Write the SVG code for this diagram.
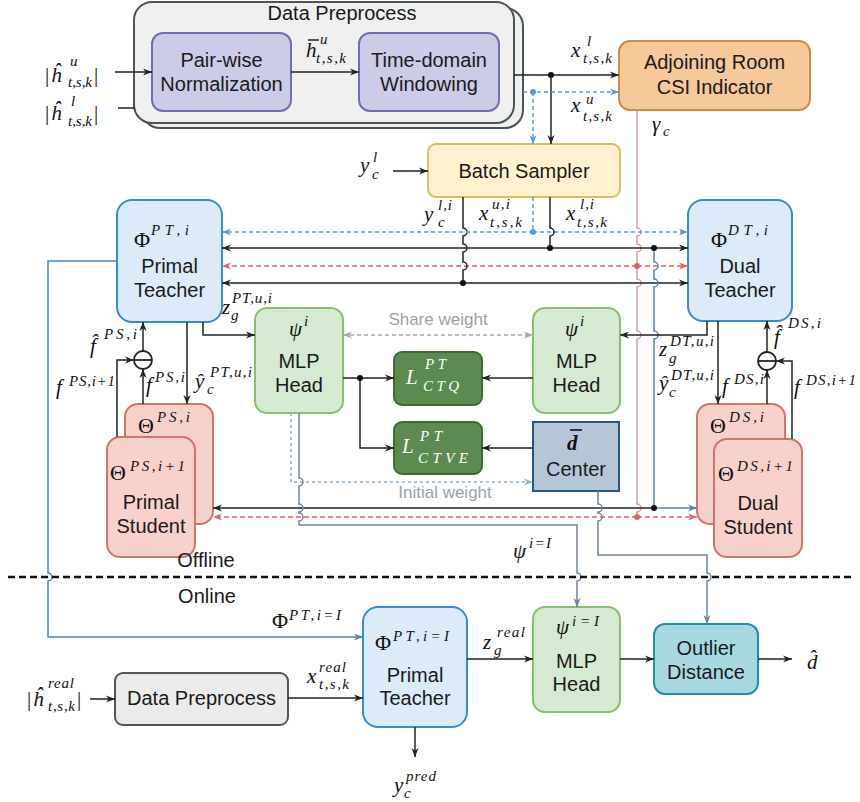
<svg xmlns="http://www.w3.org/2000/svg" width="860" height="802" viewBox="0 0 860 802">
<defs>
<style>
.t{font-family:"Liberation Sans",Arial,sans-serif;font-size:20px;fill:#1a1a1a;text-anchor:middle}
.m{font-family:"Liberation Serif","Times New Roman",serif;font-style:italic;font-size:21px;fill:#111}
.mu{font-family:"Liberation Serif","Times New Roman",serif;font-size:22px;fill:#111}
.s{font-family:"Liberation Serif","Times New Roman",serif;font-style:italic;font-size:15px}
.n{font-style:normal}
.w{fill:#fff}
.g{font-family:"Liberation Sans",Arial,sans-serif;font-size:17px;fill:#9aa3aa;text-anchor:middle}
.c{fill:none;stroke:#222;stroke-width:1.5}
.cb{fill:none;stroke:#5b9bd5;stroke-width:1.5;stroke-dasharray:4 3}
.cr{fill:none;stroke:#d9666a;stroke-width:1.5;stroke-dasharray:5 3}
.cp{fill:none;stroke:#e39a9a;stroke-width:1.5}
.cs{fill:none;stroke:#4f86ad;stroke-width:1.5}
.cg{fill:none;stroke:#6f8595;stroke-width:1.5}
.cw{fill:none;stroke:#a5abb0;stroke-width:1.5;stroke-dasharray:4 3}
.ci{fill:none;stroke:#8fb3cc;stroke-width:1.5;stroke-dasharray:3 3}
.dp{fill:#f0f0f0;stroke:#4a5459;stroke-width:2}
.pu{fill:#cccbe8;stroke:#6c6fb0;stroke-width:2}
.te{fill:#dcebf7;stroke:#3a8cc6;stroke-width:2}
.ml{fill:#d6e9d3;stroke:#86bf74;stroke-width:2}
.lo{fill:#5d8a4e;stroke:#3f6a35;stroke-width:2}
.st{fill:#f7d2cd;stroke:#cf766b;stroke-width:2}
</style>
<marker id="ak" viewBox="0 0 10 10" markerWidth="9" markerHeight="9" refX="10" refY="5" orient="auto-start-reverse" markerUnits="userSpaceOnUse"><path d="M0,1 L10,5 L0,9 L3,5 z" fill="#222"/></marker>
<marker id="ab" viewBox="0 0 10 10" markerWidth="9" markerHeight="9" refX="10" refY="5" orient="auto-start-reverse" markerUnits="userSpaceOnUse"><path d="M0,1 L10,5 L0,9 L3,5 z" fill="#5b9bd5"/></marker>
<marker id="ar" viewBox="0 0 10 10" markerWidth="9" markerHeight="9" refX="10" refY="5" orient="auto-start-reverse" markerUnits="userSpaceOnUse"><path d="M0,1 L10,5 L0,9 L3,5 z" fill="#d9666a"/></marker>
<marker id="as" viewBox="0 0 10 10" markerWidth="9" markerHeight="9" refX="10" refY="5" orient="auto-start-reverse" markerUnits="userSpaceOnUse"><path d="M0,1 L10,5 L0,9 L3,5 z" fill="#4f86ad"/></marker>
<marker id="ag" viewBox="0 0 10 10" markerWidth="9" markerHeight="9" refX="10" refY="5" orient="auto-start-reverse" markerUnits="userSpaceOnUse"><path d="M0,1 L10,5 L0,9 L3,5 z" fill="#6f8595"/></marker>
<marker id="aw" viewBox="0 0 10 10" markerWidth="9" markerHeight="9" refX="10" refY="5" orient="auto-start-reverse" markerUnits="userSpaceOnUse"><path d="M0,1 L10,5 L0,9 L3,5 z" fill="#a5abb0"/></marker>
<marker id="ai" viewBox="0 0 10 10" markerWidth="9" markerHeight="9" refX="10" refY="5" orient="auto-start-reverse" markerUnits="userSpaceOnUse"><path d="M0,1 L10,5 L0,9 L3,5 z" fill="#8fb3cc"/></marker>
</defs>
<rect width="860" height="802" fill="#fff"/>

<g id="data-preprocess">
<rect class="dp" x="142" y="8" width="381" height="120" rx="18"/>
<rect class="dp" x="134" y="2" width="380" height="121" rx="18"/>
<text class="t" x="342" y="20">Data Preprocess</text>
</g>
<g id="pairwise-normalization">
<rect class="pu" x="152" y="33" width="139" height="78" rx="11"/>
<text class="t" x="221.5" y="67">Pair-wise</text>
<text class="t" x="221.5" y="91">Normalization</text>
</g>
<g id="time-domain-windowing">
<rect class="pu" x="359" y="33" width="140" height="78" rx="11"/>
<text class="t" x="429" y="67">Time-domain</text>
<text class="t" x="429" y="91">Windowing</text>
</g>
<g id="adjoining-room">
<rect x="619" y="41" width="191" height="69" rx="11" fill="#f7c898" stroke="#d08b46" stroke-width="2"/>
<text class="t" x="714.5" y="69">Adjoining Room</text>
<text class="t" x="714.5" y="94">CSI Indicator</text>
</g>
<g id="batch-sampler">
<rect x="428" y="144" width="192" height="53" rx="8" fill="#fff3cf" stroke="#d9bf62" stroke-width="2"/>
<text class="t" x="524" y="178">Batch Sampler</text>
</g>

<g id="primal-teacher">
<rect class="te" x="117" y="200" width="105" height="122" rx="15"/>
<text class="mu" x="134" y="247">Φ<tspan class="s" x="151" y="235" textLength="38">PT,i</tspan></text>
<text class="t" x="169.5" y="273">Primal</text>
<text class="t" x="169.5" y="297">Teacher</text>
</g>
<g id="dual-teacher">
<rect class="te" x="688" y="200" width="104" height="121" rx="15"/>
<text class="mu" x="711" y="247">Φ<tspan class="s" x="728" y="235" textLength="40">DT,i</tspan></text>
<text class="t" x="740" y="273">Dual</text>
<text class="t" x="740" y="297">Teacher</text>
</g>

<g id="mlp-head-primal">
<rect class="ml" x="255" y="308" width="88" height="105" rx="12"/>
<text class="m" x="289" y="336">ψ<tspan class="s" x="304" y="326">i</tspan></text>
<text class="t" x="299" y="368">MLP</text>
<text class="t" x="299" y="392">Head</text>
</g>
<g id="mlp-head-dual">
<rect class="ml" x="533" y="308" width="87" height="105" rx="12"/>
<text class="m" x="565" y="336">ψ<tspan class="s" x="580" y="326">i</tspan></text>
<text class="t" x="576.5" y="368">MLP</text>
<text class="t" x="576.5" y="392">Head</text>
</g>
<g id="loss-ctq">
<rect class="lo" x="394" y="352" width="88" height="53" rx="8"/>
<text class="m w" x="406" y="384">L<tspan class="s" x="425" y="369" textLength="21">PT</tspan><tspan class="s" x="423" y="391" textLength="36">CTQ</tspan></text>
</g>
<g id="loss-ctve">
<rect class="lo" x="394" y="422" width="88" height="52" rx="8"/>
<text class="m w" x="402" y="453">L<tspan class="s" x="420" y="441" textLength="22">PT</tspan><tspan class="s" x="418" y="463" textLength="50">CTVE</tspan></text>
</g>
<g id="center">
<rect x="533" y="422" width="86" height="69" fill="#b6c6d6" stroke="#2b587a" stroke-width="2"/>
<text class="m" x="567" y="450" font-weight="bold">d</text>
<line x1="570" y1="430" x2="582" y2="430" stroke="#111" stroke-width="1.6"/>
<text class="t" x="576" y="476">Center</text>
</g>

<g id="primal-student">
<rect class="st" x="125" y="404" width="88" height="120" rx="13"/>
<text class="mu" x="138" y="433">Θ<tspan class="s" x="157" y="422" textLength="33">PS,i</tspan></text>
<rect class="st" x="107" y="437" width="88" height="120" rx="13"/>
<text class="mu" x="110" y="480">Θ<tspan class="s" x="130" y="471" textLength="55">PS,i+1</tspan></text>
<text class="t" x="151" y="509">Primal</text>
<text class="t" x="151" y="533">Student</text>
</g>
<g id="dual-student">
<rect class="st" x="697" y="404" width="88" height="120" rx="13"/>
<text class="mu" x="710" y="433">Θ<tspan class="s" x="729" y="422" textLength="35">DS,i</tspan></text>
<rect class="st" x="714" y="439" width="88" height="118" rx="13"/>
<text class="mu" x="718" y="481">Θ<tspan class="s" x="737" y="471" textLength="56">DS,i+1</tspan></text>
<text class="t" x="758" y="510">Dual</text>
<text class="t" x="758" y="534">Student</text>
</g>

<g id="sub-primal">
<circle cx="143" cy="360" r="9" fill="#fff" stroke="#222" stroke-width="1.8"/>
<line x1="134" y1="360" x2="152" y2="360" stroke="#222" stroke-width="1.8"/>
</g>
<g id="sub-dual">
<circle cx="767" cy="361" r="9" fill="#fff" stroke="#222" stroke-width="1.8"/>
<line x1="758" y1="361" x2="776" y2="361" stroke="#222" stroke-width="1.8"/>
</g>

<g id="data-preprocess-online">
<rect x="115" y="673" width="173" height="52" rx="8" fill="#ebebeb" stroke="#555" stroke-width="2"/>
<text class="t" x="201.5" y="705">Data Preprocess</text>
</g>
<g id="primal-teacher-online">
<rect class="te" x="363" y="607" width="104" height="120" rx="15"/>
<text class="mu" x="375" y="650">Φ<tspan class="s" x="393" y="641" textLength="56">PT,i=I</tspan></text>
<text class="t" x="415" y="682">Primal</text>
<text class="t" x="415" y="705">Teacher</text>
</g>
<g id="mlp-head-online">
<rect class="ml" x="533" y="607" width="87" height="105" rx="12"/>
<text class="m" x="556" y="634">ψ<tspan class="s" x="572" y="626" textLength="27">i=I</tspan></text>
<text class="t" x="576.5" y="668">MLP</text>
<text class="t" x="576.5" y="691">Head</text>
</g>
<g id="outlier-distance">
<rect x="654" y="624" width="104" height="70" rx="11" fill="#a7d9e0" stroke="#1f8fa6" stroke-width="2"/>
<text class="t" x="706" y="655">Outlier</text>
<text class="t" x="706" y="679">Distance</text>
</g>

<g id="connectors">
<path class="c" d="M115,72 H152" marker-end="url(#ak)"/>
<path class="c" d="M118,108 H135"/>
<path class="c" d="M291,72 H359" marker-end="url(#ak)"/>
<path class="c" d="M514,75 H619" stroke="#444" marker-end="url(#ak)"/>
<path class="c" d="M551,75 V144" marker-end="url(#ak)"/>
<path class="cb" d="M523,92 H619" marker-end="url(#ab)"/>
<path class="cb" d="M533,92 V144" marker-end="url(#ab)"/>
<path class="c" d="M393,171 H428" marker-end="url(#ak)"/>
<path class="cp" d="M637,110 V228 a4,4 0 0 1 0,8 V244 a4,4 0 0 1 0,8 V279 a4,4 0 0 1 0,8 V331 a4,4 0 0 1 0,8 V504 a4,4 0 0 1 0,8 V517"/>
<path class="cr" d="M637,266 H222" marker-end="url(#ar)"/>
<path class="cr" d="M637,266 H688" marker-end="url(#ar)"/>
<path class="cr" d="M637,517 H213" marker-end="url(#ar)"/>
<path class="cr" d="M637,517 H697" marker-end="url(#ar)"/>
<path class="c" d="M463,197 V228 a4,4 0 0 1 0,8 V244 a4,4 0 0 1 0,8 V262 a4,4 0 0 1 0,8 V283"/>
<path class="c" d="M463,283 H222" stroke="#3d4a55" marker-end="url(#ak)"/>
<path class="c" d="M463,283 H688" marker-end="url(#ak)"/>
<path class="cb" d="M533,197 V232"/>
<path class="cb" d="M533,232 H222" marker-end="url(#ab)"/>
<path class="cb" d="M533,232 H688" marker-end="url(#ab)"/>
<path class="c" d="M550,197 V228 a4,4 0 0 1 0,8 V248"/>
<path class="c" d="M550,248 H222" marker-end="url(#ak)"/>
<path class="c" d="M550,248 H688" marker-end="url(#ak)"/>
<path class="cs" d="M654,248 V262 a4,4 0 0 1 0,8 V279 a4,4 0 0 1 0,8 V331 a4,4 0 0 1 0,8 V508"/>
<path class="cs" d="M654,508 H697" marker-end="url(#as)"/>
<path class="c" d="M654,508 H213" marker-end="url(#ak)"/>
<path class="c" d="M203,322 V335 H255" marker-end="url(#ak)"/>
<path class="c" d="M187,322 V404" marker-end="url(#ak)"/>
<path class="c" d="M143,351 V322" stroke="#555" marker-end="url(#ak)"/>
<path class="c" d="M143,404 V369" marker-end="url(#ak)"/>
<path class="c" d="M117,437 V360 H134" marker-end="url(#ak)"/>
<path class="c" d="M707,321 V335 H620" marker-end="url(#ak)"/>
<path class="c" d="M718,321 V404" marker-end="url(#ak)"/>
<path class="c" d="M767,352 V321" marker-end="url(#ak)"/>
<path class="c" d="M767,404 V370" marker-end="url(#ak)"/>
<path class="c" d="M792,439 V361 H776" marker-end="url(#ak)"/>
<path class="cw" d="M343,335 H533" marker-start="url(#aw)" marker-end="url(#aw)"/>
<path class="c" d="M343,378 H394" marker-end="url(#ak)"/>
<path class="c" d="M360,378 V448 H394" marker-end="url(#ak)"/>
<path class="c" d="M533,378 H482" marker-end="url(#ak)"/>
<path class="c" d="M533,448 H482" marker-end="url(#ak)"/>
<path class="ci" d="M291,413 V482 H533" marker-end="url(#ai)"/>
<path class="cg" d="M299,413 V478 a4,4 0 0 1 0,8 V504 a4,4 0 0 1 0,8 V513 a4,4 0 0 1 0,8 V525 H577 V573 a4,4 0 0 1 0,8 V607" marker-end="url(#ag)"/>
<path class="cg" d="M598,491 V504 a4,4 0 0 1 0,8 V513 a4,4 0 0 1 0,8 V555 H707 V573 a4,4 0 0 1 0,8 V624" marker-end="url(#ag)"/>
<path class="cs" d="M117,261 H48 V573 a4,4 0 0 1 0,8 V637 H363" marker-end="url(#as)"/>
<path d="M8,577 H855" fill="none" stroke="#111" stroke-width="2.5" stroke-dasharray="7 4"/>
<path class="c" d="M90,699 H115" marker-end="url(#ak)"/>
<path class="c" d="M288,698 H363" marker-end="url(#ak)"/>
<path class="c" d="M467,659 H533" marker-end="url(#ak)"/>
<path class="c" d="M620,659 H654" marker-end="url(#ak)"/>
<path class="c" d="M758,659 H792" marker-end="url(#ak)"/>
<path class="c" d="M415,727 V757" marker-end="url(#ak)"/>
<circle cx="551" cy="75" r="3" fill="#111"/>
<circle cx="533" cy="92" r="3" fill="#5b9bd5"/>
<circle cx="533" cy="232" r="3" fill="#5b9bd5"/>
<circle cx="550" cy="248" r="3" fill="#111"/>
<circle cx="654" cy="248" r="3" fill="#111"/>
<circle cx="637" cy="266" r="3" fill="#d9666a"/>
<circle cx="463" cy="283" r="3" fill="#111"/>
<circle cx="360" cy="378" r="3" fill="#111"/>
<circle cx="654" cy="508" r="3" fill="#111"/>
<circle cx="637" cy="517" r="3" fill="#d9666a"/>
</g>

<g id="labels">
<text class="m" x="45" y="82"><tspan class="n">|</tspan><tspan x="51">ĥ</tspan><tspan class="s" x="70" y="66">u</tspan><tspan class="s" x="68" y="87" textLength="24">t,s,k</tspan><tspan class="n" x="94" y="82">|</tspan></text>
<text class="m" x="45" y="120"><tspan class="n">|</tspan><tspan x="51">ĥ</tspan><tspan class="s" x="71" y="106">l</tspan><tspan class="s" x="68" y="126" textLength="24">t,s,k</tspan><tspan class="n" x="94" y="120">|</tspan></text>
<text class="m" x="306" y="57">h<tspan class="s" x="320" y="44">u</tspan><tspan class="s" x="316" y="63" textLength="30">t,s,k</tspan></text>
<line x1="308" y1="40" x2="319" y2="40" stroke="#111" stroke-width="1.4"/>
<text class="m" x="571" y="57">x<tspan class="s" x="587" y="46">l</tspan><tspan class="s" x="583" y="63" textLength="29">t,s,k</tspan></text>
<text class="m" x="571" y="112">x<tspan class="s" x="586" y="104">u</tspan><tspan class="s" x="583" y="121" textLength="29">t,s,k</tspan></text>
<text class="m" x="652" y="131">γ<tspan class="s" x="663" y="136">c</tspan></text>
<text class="m" x="360" y="172">y<tspan class="s" x="373" y="162">l</tspan><tspan class="s" x="372" y="179">c</tspan></text>
<text class="m" x="424" y="221">y<tspan class="s" x="438" y="210" textLength="14">l,i</tspan><tspan class="s" x="438" y="227">c</tspan></text>
<text class="m" x="479" y="220">x<tspan class="s" x="492" y="209" textLength="18">u,i</tspan><tspan class="s" x="490" y="227" textLength="32">t,s,k</tspan></text>
<text class="m" x="566" y="220">x<tspan class="s" x="580" y="209" textLength="14">l,i</tspan><tspan class="s" x="577" y="227" textLength="30">t,s,k</tspan></text>
<text class="m" x="222" y="314">z<tspan class="s" x="232" y="303" textLength="40">PT,u,i</tspan><tspan class="s" x="231" y="320">g</tspan></text>
<text class="m" x="90" y="353">f&#x302;<tspan class="s" x="104" y="339" textLength="33">PS,i</tspan></text>
<text class="m" x="56" y="394">f<tspan class="s" x="69" y="386" textLength="46">PS,i+1</tspan></text>
<text class="m" x="146" y="392">f<tspan class="s" x="155" y="382" textLength="30">PS,i</tspan></text>
<text class="m" x="195" y="388">ŷ<tspan class="s" x="210" y="377" textLength="42">PT,u,i</tspan><tspan class="s" x="207" y="394">c</tspan></text>
<text class="m" x="659" y="356">z<tspan class="s" x="670" y="346" textLength="44">DT,u,i</tspan><tspan class="s" x="669" y="363">g</tspan></text>
<text class="m" x="659" y="390">ŷ<tspan class="s" x="671" y="380" textLength="43">DT,u,i</tspan><tspan class="s" x="669" y="397">c</tspan></text>
<text class="m" x="774" y="344">f&#x302;<tspan class="s" x="788" y="328" textLength="33">DS,i</tspan></text>
<text class="m" x="722" y="393">f<tspan class="s" x="734" y="384" textLength="30">DS,i</tspan></text>
<text class="m" x="794" y="394">f<tspan class="s" x="806" y="385" textLength="50">DS,i+1</tspan></text>
<text class="g" x="438" y="325">Share weight</text>
<text class="g" x="445" y="498">Initial weight</text>
<text class="m" x="513" y="558">ψ<tspan class="s" x="529" y="548" textLength="22">i=I</tspan></text>
<text class="t" x="206" y="567" text-anchor="start">Offline</text>
<text class="t" x="207" y="603" text-anchor="start">Online</text>
<text class="mu" x="272" y="628">Φ<tspan class="s" x="289" y="620" textLength="52">PT,i=I</tspan></text>
<text class="m" x="27" y="706"><tspan class="n">|</tspan><tspan x="33">ĥ</tspan><tspan class="s" x="48" y="688" textLength="26">real</tspan><tspan class="s" x="48" y="711" textLength="27">t,s,k</tspan><tspan class="n" x="77" y="706">|</tspan></text>
<text class="m" x="307" y="683">x<tspan class="s" x="319" y="672" textLength="27">real</tspan><tspan class="s" x="319" y="689" textLength="30">t,s,k</tspan></text>
<text class="m" x="483" y="649">z<tspan class="s" x="497" y="637" textLength="28">real</tspan><tspan class="s" x="494" y="655">g</tspan></text>
<text class="m" x="807" y="669">d&#x302;</text>
<text class="m" x="394" y="792">y<tspan class="s" x="406" y="781" textLength="30">pred</tspan><tspan class="s" x="404" y="798">c</tspan></text>
</g>
</svg>
